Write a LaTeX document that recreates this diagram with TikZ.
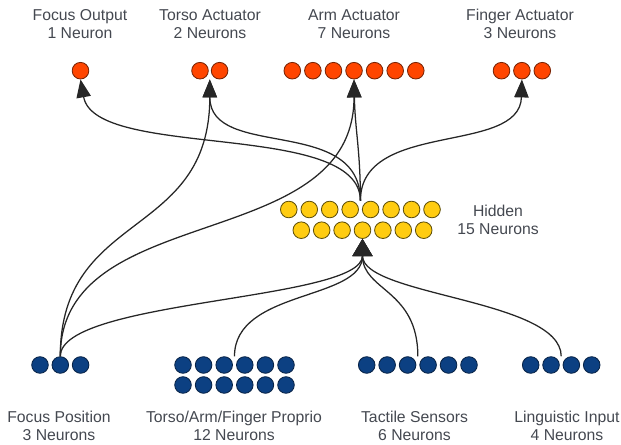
\documentclass[tikz,border=0pt]{standalone}
\usepackage{fontspec}
\setmainfont{Liberation Sans}
\usetikzlibrary{arrows.meta,calc}
\definecolor{outfill}{RGB}{255,69,0}
\definecolor{outdraw}{RGB}{120,35,5}
\definecolor{hidfill}{RGB}{255,204,17}
\definecolor{hiddraw}{RGB}{95,80,10}
\definecolor{infill}{RGB}{12,64,130}
\definecolor{indraw}{RGB}{8,35,70}
\definecolor{labelgray}{RGB}{68,72,80}

\begin{document}
\begin{tikzpicture}[
  x=0.025cm, y=-0.025cm,
  neuron/.style={circle, draw, line width=0.6pt, minimum size=0.415cm, inner sep=0pt},
  outn/.style={neuron, fill=outfill, draw=outdraw},
  hidn/.style={neuron, fill=hidfill, draw=hiddraw},
  inn/.style={neuron, fill=infill, draw=indraw},
  lbl/.style={align=center, text=labelgray, font=\fontsize{11.2}{12.8}\selectfont},
  link/.style={-{Triangle[length=4.5mm, width=3.6mm]}, line width=0.9pt, black!85},
  wide/.style={-{Triangle[length=4.3mm, width=5mm]}, line width=0.9pt, black!85}
]
\useasboundingbox (0,0) rectangle (621,445);

% Ausgabeschicht
\node[outn] (fo) at (80.5,70.7) {};
\foreach \i in {1,2} \node[outn] (tor\i) at ({200+(\i-1)*19.6},70.7) {};
\foreach \i in {1,...,7} \node[outn] (arm\i) at ({292.3+(\i-1)*20.58},70.7) {};
\foreach \i in {1,2,3} \node[outn] (fin\i) at ({501.5+(\i-1)*20.4},70.7) {};

% versteckte Schicht
\foreach \i in {1,...,8} \node[hidn] (ht\i) at ({288.8+(\i-1)*20.46},209.5) {};
\foreach \i in {1,...,7} \node[hidn] (hb\i) at ({301.3+(\i-1)*20.4},230.2) {};

% Eingabeschicht
\foreach \i in {1,2,3} \node[inn] (fp\i) at ({40+(\i-1)*20.3},365) {};
\foreach \i in {1,...,6} {
  \node[inn] (pa\i) at ({183+(\i-1)*20.6},365) {};
  \node[inn] (pb\i) at ({183+(\i-1)*20.6},385) {};
}
\foreach \i in {1,...,6} \node[inn] (tac\i) at ({366.7+(\i-1)*20.46},365) {};
\foreach \i in {1,...,4} \node[inn] (lin\i) at ({530.7+(\i-1)*20.33},365) {};

% Beschriftungen
\node[lbl] (folbl) at (80,24) {Focus Output\\1 Neuron};
\node[lbl] (torlbl) at (210,24) {Torso Actuator\\2 Neurons};
\node[lbl] (armlbl) at (354,24) {Arm Actuator\\7 Neurons};
\node[lbl] (finlbl) at (520,24) {Finger Actuator\\3 Neurons};
\node[lbl] (hidlbl) at (498,220) {Hidden\\15 Neurons};
\node[lbl] (fplbl) at (59,425.5) {Focus Position\\3 Neurons};
\node[lbl] (prlbl) at (234,425.5) {Torso/Arm/Finger Proprio\\12 Neurons};
\node[lbl] (taclbl) at (414.5,425.5) {Tactile Sensors\\6 Neurons};
\node[lbl] (linlbl) at (567,425.5) {Linguistic Input\\4 Neurons};

% Anschlusspunkte
\coordinate (htop) at ($(ht4.north)!.5!(ht5.north)$);
\coordinate (torin) at ($(tor1.south)!.5!(tor2.south)$);
\coordinate (prout) at ($(pa3.north)!.5!(pa4.north)$);
\coordinate (tacout) at ($(tac3.north)!.5!(tac4.north)$);
\coordinate (linout) at ($(lin2.north)!.5!(lin3.north)$);

% hidden -> Ausgaben
\draw[link] (htop) .. controls +(0,-81) and +(14.5,81) .. (fo.south);
\draw[link] (htop) .. controls +(0,-86) and +(0,81) .. (torin);
\draw[link] (htop) .. controls +(0,-51) and +(1,51) .. (arm4.south);
\draw[link] (htop) .. controls +(0,-81) and +(-2,76) .. (fin2.south);

% Eingaben -> hidden
\draw[wide] (fp2.north) .. controls +(0,-57) and +(0,62) .. (hb4.south);
\draw[wide] (prout) .. controls +(0,-67) and +(0,62) .. (hb4.south);
\draw[wide] (tacout) .. controls +(0,-67) and +(0,52) .. (hb4.south);
\draw[wide] (linout) .. controls +(0,-57) and +(0,57) .. (hb4.south);

% Focus Position direkt -> Ausgaben
\draw[link] (fp2.north) .. controls +(0,-147) and +(0,161) .. (torin);
\draw[link] (fp2.north) .. controls +(0,-157) and +(0,176) .. (arm4.south);

\end{tikzpicture}
\end{document}
